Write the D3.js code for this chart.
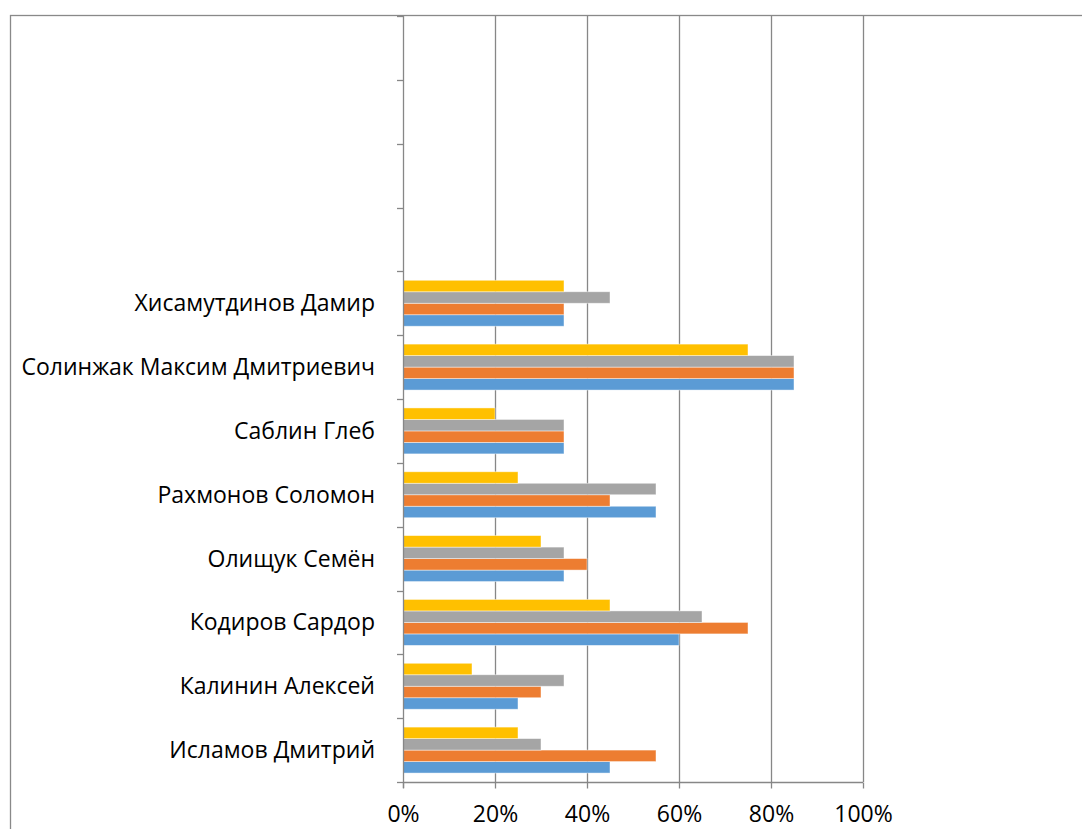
<!DOCTYPE html>
<html><head><meta charset="utf-8">
<script src="https://cdn.jsdelivr.net/npm/d3@7/dist/d3.min.js"></script>
<style>body{margin:0;background:#fff;}svg{display:block;}text{font-family:"Open Sans",sans-serif;fill:#000;}</style>
</head><body><svg id="c" width="1082" height="829"></svg>
<script>
const categories = ["Исламов Дмитрий","Калинин Алексей","Кодиров Сардор","Олищук Семён","Рахмонов Соломон","Саблин Глеб","Солинжак Максим Дмитриевич","Хисамутдинов Дамир","","","",""];
const seriesNames = ["Ряд1","Ряд2","Ряд3","Ряд4"];
const series1 = [45,25,60,35,55,35,85,35];
const series2 = [55,30,75,40,45,35,85,35];
const series3 = [30,35,65,35,55,35,85,45];
const series4 = [25,15,45,30,25,20,75,35];
const colors = ["#5B9BD5","#ED7D31","#A5A5A5","#FFC000"];
const xTicks = [0,20,40,60,80,100];

const svg = d3.select("#c");
const pLeft = 403, pRight = 863, pTop = 16, pBottom = 782;
const keys = categories.map((c,i)=> c===""? "empty"+i : c);
const yBand = d3.scaleBand().domain(keys).range([pBottom, pTop]);
const x = d3.scaleLinear().domain([0,100]).range([pLeft,pRight]);
const allSeries = [series1,series2,series3,series4];
const barH = yBand.bandwidth()*0.18;
const groupH = barH*4;

// outer border
svg.append("rect").attr("x",10.5).attr("y",15.5).attr("width",1100).attr("height",900)
  .attr("fill","none").attr("stroke","#898989").attr("stroke-width",1.3);

// gridlines
svg.append("g").selectAll("line").data(xTicks.slice(1)).join("line")
  .attr("x1",d=>Math.round(x(d))+0.5).attr("x2",d=>Math.round(x(d))+0.5)
  .attr("y1",pTop).attr("y2",pBottom).attr("stroke","#878787").attr("stroke-width",1.3);

// bars
const gb = svg.append("g");
allSeries.forEach((vals,si)=>{
  gb.append("g").selectAll("rect").data(vals).join("rect")
    .attr("x",x(0)).attr("y",(d,i)=>yBand(keys[i]) + (yBand.bandwidth()-groupH)/2 + (3-si)*barH)
    .attr("width",d=>x(d)-x(0)).attr("height",barH)
    .attr("fill",colors[si]).attr("stroke","rgba(255,255,255,0.55)").attr("stroke-width",0.8);
});

// y axis
const ya = d3.axisLeft(yBand).tickSize(0).tickFormat((d,i)=>categories[i]);
const gy = svg.append("g").attr("transform",`translate(${pLeft},0)`).call(ya);
gy.select(".domain").remove();
gy.selectAll("text").attr("x",-28).style("font-size","23px").attr("dy","0.35em");
gy.selectAll(".tick line").remove();
// category boundary ticks
const bounds = keys.map(k=>yBand(k)).concat([pBottom]);
svg.append("g").selectAll("line").data(bounds).join("line")
  .attr("x1",pLeft-6).attr("x2",pLeft).attr("y1",d=>Math.round(d)+0.5).attr("y2",d=>Math.round(d)+0.5)
  .attr("stroke","#878787").attr("stroke-width",1.3);
svg.append("line").attr("x1",pLeft+0.5).attr("x2",pLeft+0.5).attr("y1",pTop).attr("y2",pBottom+6)
  .attr("stroke","#878787").attr("stroke-width",1.3);

// x axis
const xa = d3.axisBottom(x).tickValues(xTicks).tickFormat(d=>d+"%").tickSize(6).tickPadding(17);
const gx = svg.append("g").attr("transform",`translate(0,${pBottom+0.5})`).call(xa);
gx.select(".domain").attr("stroke","#878787").attr("stroke-width",1.3).attr("d",`M${pLeft},0H${pRight}`);
gx.selectAll(".tick line").attr("stroke","#878787").attr("stroke-width",1.3);
gx.selectAll("text").style("font-size","23px");
</script></body></html>
